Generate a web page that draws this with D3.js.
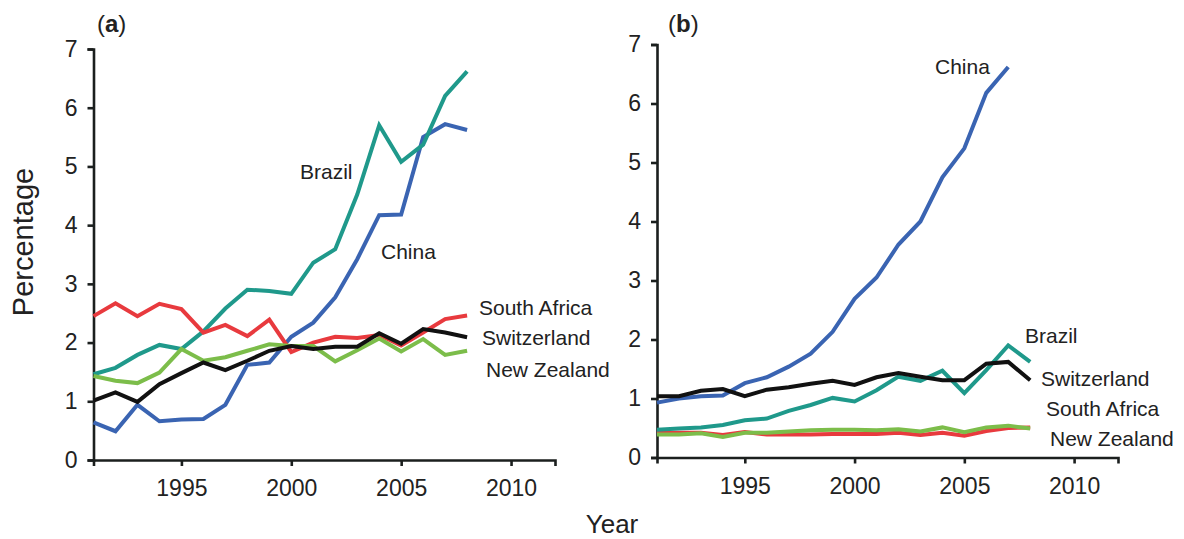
<!DOCTYPE html>
<html>
<head>
<meta charset="utf-8">
<script src="https://cdn.jsdelivr.net/npm/d3@7/dist/d3.min.js"></script>
<style>
  html, body { margin: 0; padding: 0; background: #fff; }
  svg { display: block; font-family: "Liberation Sans", Arial, Helvetica, sans-serif; }
</style>
</head>
<body>
<svg id="chart" width="1184" height="539"></svg>
<script>
// Years covered by both panels
const years = d3.range(1991, 2009);
const yearTicks = [1995, 2000, 2005, 2010];
const pctTicks = [0, 1, 2, 3, 4, 5, 6, 7];

// Panel (a) series
const aBrazil      = [1.46, 1.57, 1.79, 1.96, 1.89, 2.19, 2.58, 2.90, 2.88, 2.83, 3.36, 3.59, 4.52, 5.70, 5.08, 5.37, 6.20, 6.62];
const aChina       = [0.64, 0.49, 0.94, 0.66, 0.69, 0.70, 0.94, 1.62, 1.66, 2.10, 2.34, 2.77, 3.42, 4.17, 4.18, 5.50, 5.72, 5.62];
const aSouthAfrica = [2.45, 2.67, 2.45, 2.66, 2.57, 2.17, 2.30, 2.11, 2.39, 1.84, 2.00, 2.10, 2.08, 2.13, 1.95, 2.17, 2.40, 2.46];
const aSwitzerland = [1.01, 1.15, 0.99, 1.29, 1.48, 1.66, 1.53, 1.69, 1.86, 1.94, 1.89, 1.93, 1.93, 2.16, 1.98, 2.23, 2.17, 2.09];
const aNewZealand  = [1.43, 1.35, 1.31, 1.49, 1.89, 1.69, 1.75, 1.86, 1.97, 1.94, 1.94, 1.68, 1.87, 2.07, 1.85, 2.06, 1.79, 1.86];

// Panel (b) series (China ends in 2007)
const bBrazil      = [0.47, 0.49, 0.51, 0.55, 0.63, 0.66, 0.79, 0.89, 1.01, 0.95, 1.14, 1.37, 1.30, 1.47, 1.09, 1.48, 1.90, 1.62];
const bChina       = [0.93, 1.00, 1.04, 1.05, 1.26, 1.36, 1.54, 1.76, 2.13, 2.69, 3.05, 3.61, 4.00, 4.75, 5.24, 6.18, 6.62];
const bSouthAfrica = [0.42, 0.42, 0.42, 0.38, 0.43, 0.39, 0.39, 0.39, 0.40, 0.40, 0.40, 0.42, 0.38, 0.42, 0.37, 0.45, 0.50, 0.51];
const bSwitzerland = [1.04, 1.04, 1.13, 1.16, 1.04, 1.15, 1.19, 1.25, 1.30, 1.23, 1.36, 1.43, 1.37, 1.31, 1.31, 1.59, 1.62, 1.31];
const bNewZealand  = [0.39, 0.39, 0.41, 0.35, 0.42, 0.42, 0.44, 0.46, 0.47, 0.47, 0.46, 0.48, 0.44, 0.51, 0.43, 0.51, 0.54, 0.49];

const colors = {
  brazil: "#1f998b",
  china: "#3a64b2",
  southAfrica: "#e83a3e",
  switzerland: "#111111",
  newZealand: "#7cbd4a"
};

const svg = d3.select("#chart");
const textColor = "#222";
const axisColor = "#1b1f1e";

function drawPanel(cfg) {
  const x = d3.scaleLinear().domain([1991, 2012]).range(cfg.xRange);
  const y = d3.scaleLinear().domain([0, 7]).range(cfg.yRange);
  const g = svg.append("g");

  // axes
  const xAxis = g.append("g")
    .attr("transform", `translate(0,${cfg.yRange[0]})`)
    .call(d3.axisBottom(x).tickValues(yearTicks).tickFormat(d3.format("d")).tickSizeOuter(0).tickSize(6).tickPadding(14));
  const yAxis = g.append("g")
    .attr("transform", `translate(${cfg.xRange[0]},0)`)
    .call(d3.axisLeft(y).tickValues(pctTicks).tickFormat(d3.format("d")).tickSizeOuter(0).tickSize(6).tickPadding(10));
  [xAxis, yAxis].forEach(ax => {
    ax.select(".domain").attr("stroke", axisColor).attr("stroke-width", 2.6);
    ax.selectAll(".tick line").attr("stroke", axisColor).attr("stroke-width", 2.6);
    ax.selectAll(".tick text")
      .attr("fill", textColor)
      .style("font-size", "23px")
      .style("font-family", "'Liberation Sans', Arial, sans-serif");
  });

  // lines
  const line = d3.line()
    .x((d, i) => x(years[i]))
    .y(d => y(d));
  cfg.series.forEach(s => {
    g.append("path")
      .datum(s.values)
      .attr("fill", "none")
      .attr("stroke", s.color)
      .attr("stroke-width", 4)
      .attr("stroke-linejoin", "miter")
      .attr("d", line);
  });

  // series labels
  cfg.labels.forEach(l => {
    g.append("text")
      .attr("x", l.x)
      .attr("y", l.y)
      .attr("dy", "0.35em")
      .attr("fill", textColor)
      .style("font-size", "21px")
      .text(l.text);
  });

  // panel letter
  const t = g.append("text")
    .attr("x", cfg.tag.x)
    .attr("y", cfg.tag.y)
    .attr("fill", textColor)
    .style("font-size", "24px");
  t.append("tspan").text("(");
  t.append("tspan").style("font-weight", "bold").text(cfg.tag.letter);
  t.append("tspan").text(")");
}

drawPanel({
  xRange: [93.5, 555],
  yRange: [460, 49],
  series: [
    { values: aChina, color: colors.china },
    { values: aBrazil, color: colors.brazil },
    { values: aSouthAfrica, color: colors.southAfrica },
    { values: aNewZealand, color: colors.newZealand },
    { values: aSwitzerland, color: colors.switzerland }
  ],
  labels: [
    { text: "Brazil", x: 300, y: 172 },
    { text: "China", x: 381, y: 252 },
    { text: "South Africa", x: 479, y: 308 },
    { text: "Switzerland", x: 482, y: 338 },
    { text: "New Zealand", x: 486, y: 370 }
  ],
  tag: { letter: "a", x: 97, y: 32 }
});

drawPanel({
  xRange: [657, 1118],
  yRange: [457.5, 44.5],
  series: [
    { values: bSouthAfrica, color: colors.southAfrica },
    { values: bNewZealand, color: colors.newZealand },
    { values: bChina, color: colors.china },
    { values: bBrazil, color: colors.brazil },
    { values: bSwitzerland, color: colors.switzerland }
  ],
  labels: [
    { text: "China", x: 935, y: 67 },
    { text: "Brazil", x: 1025, y: 336 },
    { text: "Switzerland", x: 1041, y: 379 },
    { text: "South Africa", x: 1046, y: 409 },
    { text: "New Zealand", x: 1050, y: 439 }
  ],
  tag: { letter: "b", x: 668, y: 32 }
});

// shared axis titles
svg.append("text")
  .attr("x", 612)
  .attr("y", 533)
  .attr("text-anchor", "middle")
  .attr("fill", textColor)
  .style("font-size", "26px")
  .text("Year");

svg.append("text")
  .attr("transform", "translate(23,242) rotate(-90)")
  .attr("dy", "0.35em")
  .attr("text-anchor", "middle")
  .attr("fill", textColor)
  .style("font-size", "29px")
  .text("Percentage");
</script>
</body>
</html>
